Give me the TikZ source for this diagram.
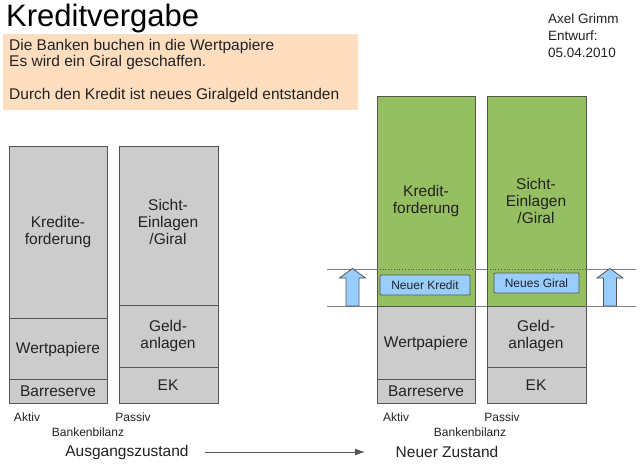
\documentclass[tikz,border=0pt]{standalone}
\usepackage{fontspec}
\setmainfont{Liberation Sans}
\usetikzlibrary{arrows.meta}
\definecolor{peach}{HTML}{FFDEBF}
\definecolor{segGray}{HTML}{CCCCCC}
\definecolor{segGreen}{HTML}{95BF60}
\definecolor{lineGray}{HTML}{555555}
\definecolor{lblue}{HTML}{99CCFF}
\definecolor{txt}{HTML}{222222}
\tikzset{
  seg/.style={draw=lineGray, line width=0.9pt, fill=segGray},
  gseg/.style={draw=lineGray, line width=0.9pt, fill=segGreen},
  lbl/.style={font=\fontsize{15.5}{17}\selectfont, align=center, text=txt, inner sep=0pt},
  small/.style={font=\fontsize{12}{13}\selectfont, text=txt, inner sep=0pt},
  state/.style={font=\fontsize{15.5}{18}\selectfont, text=txt, inner sep=0pt},
  newbox/.style={draw=lineGray, line width=0.9pt, fill=lblue, font=\fontsize{12}{14}\selectfont, text=txt, inner sep=0pt, rounded corners=1pt},
  guide/.style={draw=gray, line width=0.6pt},
  uparrow/.style={draw=lineGray, line width=0.8pt, fill=lblue, line join=miter}
}
\begin{document}
\begin{tikzpicture}[x=1pt,y=-1pt]
\useasboundingbox (0,0) rectangle (640,464);
\fill[white] (0,0) rectangle (640,464);
% title and notes
\node[anchor=west, inner sep=0pt, font=\fontsize{31}{33}\selectfont, text=black] (title) at (6,18) {Kreditvergabe};
\fill[peach] (3,34) rectangle (358,110);
\node[anchor=north west, inner sep=0pt, font=\fontsize{15.5}{16.5}\selectfont, align=left, text=txt] (note) at (9,39) {Die Banken buchen in die Wertpapiere\\Es wird ein Giral geschaffen.\\[16.5pt]Durch den Kredit ist neues Giralgeld entstanden};
\node[anchor=north west, inner sep=0pt, font=\fontsize{13.5}{17}\selectfont, align=left, text=txt] (author) at (548,14) {Axel Grimm\\Entwurf:\\05.04.2010};

% left: Ausgangszustand
\path[seg] (9,146) rectangle (107,318);
\path[seg] (9,318) rectangle (107,379);
\path[seg] (9,379) rectangle (107,403);
\path[seg] (119,146) rectangle (218,305);
\path[seg] (119,305) rectangle (218,367);
\path[seg] (119,367) rectangle (218,403);
\node[lbl] (lk) at (58,232) {Kredite-\\forderung};
\node[lbl] (lw) at (58,349) {Wertpapiere};
\node[lbl] (lb) at (58,391) {Barreserve};
\node[lbl] (ls) at (168,222) {Sicht-\\Einlagen\\/Giral};
\node[lbl] (lg) at (168,336) {Geld-\\anlagen};
\node[lbl] (le) at (168,385) {EK};
\node[small] (la) at (27,417) {Aktiv};
\node[small] (lp) at (133,417) {Passiv};
\node[small] (lbb) at (88,432) {Bankenbilanz};
\node[state] (s1) at (127,452) {Ausgangszustand};

% right: Neuer Zustand
\path[gseg] (377,96) rectangle (475,306);
\path[seg] (377,306) rectangle (475,379);
\path[seg] (377,379) rectangle (475,403);
\path[gseg] (487,96) rectangle (586,306);
\path[seg] (487,306) rectangle (586,367);
\path[seg] (487,367) rectangle (586,403);
\draw[lineGray, line width=0.8pt, dotted] (377,269) -- (475,269);
\draw[lineGray, line width=0.8pt, dotted] (487,269) -- (586,269);
\draw[guide] (327,269) -- (377,269);
\draw[guide] (327,306) -- (377,306);
\draw[guide] (475,269) -- (487,269);
\draw[guide] (475,306) -- (487,306);
\draw[guide] (586,269) -- (636,269);
\draw[guide] (586,306) -- (636,306);
\node[lbl] (rk) at (426,201) {Kredit-\\forderung};
\node[lbl] (rs) at (536,201) {Sicht-\\Einlagen\\/Giral};
\node[lbl] (rw) at (426,343) {Wertpapiere};
\node[lbl] (rb) at (426,391) {Barreserve};
\node[lbl] (rg) at (536,336) {Geld-\\anlagen};
\node[lbl] (re) at (536,385) {EK};
\node[newbox, minimum width=90pt, minimum height=20pt] (nk) at (425,285) {Neuer Kredit};
\node[newbox, minimum width=85pt, minimum height=20pt] (ng) at (536.5,283) {Neues Giral};
\path[uparrow] (346,306) -- (346,278) -- (339.5,278) -- (352.5,268.5) -- (365.5,278) -- (359,278) -- (359,306) -- cycle;
\path[uparrow] (603.5,306) -- (603.5,278) -- (597,278) -- (610,268.5) -- (623,278) -- (616.5,278) -- (616.5,306) -- cycle;
\node[small] (ra) at (396,417) {Aktiv};
\node[small] (rp) at (502,417) {Passiv};
\node[small] (rbb) at (470,432) {Bankenbilanz};
\node[state] (s2) at (447,452) {Neuer Zustand};

\draw[lineGray, line width=0.9pt, -{Latex[length=10pt,width=7pt]}] (s1.east) ++(16,0) coordinate (a0) -- (365,452) coordinate (a1);
\end{tikzpicture}
\end{document}
